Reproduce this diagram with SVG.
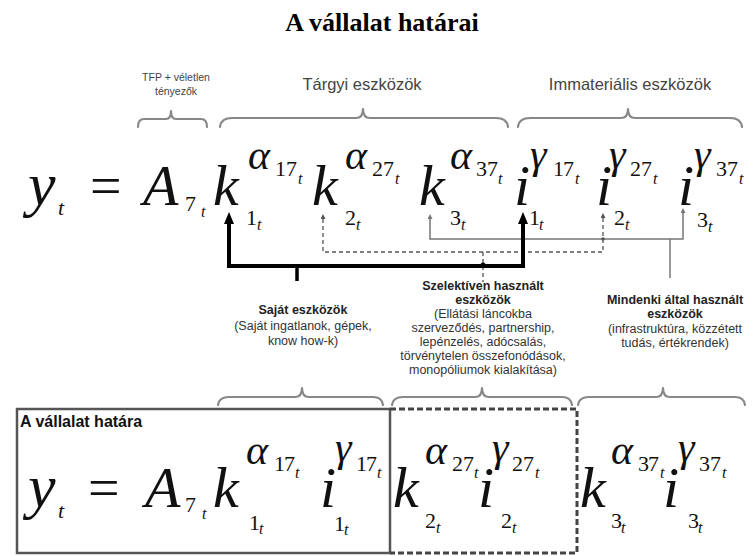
<svg xmlns="http://www.w3.org/2000/svg" width="752" height="556" viewBox="0 0 752 556">
<style>
.title{font:bold 26px "Liberation Serif",serif;fill:#000}
.lbl{font:16.5px "Liberation Sans",Arial,sans-serif;fill:#444}
.sm{font:10.5px "Liberation Sans",Arial,sans-serif;fill:#444}
.b{font:bold 12.5px "Liberation Sans",Arial,sans-serif;fill:#222}
.n{font:12.5px "Liberation Sans",Arial,sans-serif;fill:#333}
.box{font:bold 16px "Liberation Sans",Arial,sans-serif;fill:#111}
.big{font:italic 58px "Liberation Serif",serif;fill:#111}
.yy{font:italic 62px "Liberation Serif",serif;fill:#111}
.eq{font:56px "Liberation Serif",serif;fill:#111}
.sup{font:italic 42px "Liberation Serif",serif;fill:#111}
.d{font:22px "Liberation Serif",serif;fill:#111}
.t{font:italic 16px "Liberation Serif",serif;fill:#111}
.ts{font:italic 22px "Liberation Serif",serif;fill:#111}
.brace{fill:none;stroke:#888;stroke-width:2.2;stroke-linejoin:round;stroke-linecap:round}
</style>
<defs>
<marker id="ahThick" viewBox="0 0 12 10" refX="0" refY="5" markerWidth="12" markerHeight="10" markerUnits="userSpaceOnUse" orient="auto-start-reverse"><path d="M0,0 L12,5 L0,10 z" fill="#000"/></marker>
<marker id="ahDash" viewBox="0 0 5 5" refX="0" refY="2.5" markerWidth="5" markerHeight="5" markerUnits="userSpaceOnUse" orient="auto-start-reverse"><path d="M0,0 L5,2.5 L0,5 z" fill="#555"/></marker>
<marker id="ahThin" viewBox="0 0 5 5" refX="0" refY="2.5" markerWidth="5" markerHeight="5" markerUnits="userSpaceOnUse" orient="auto-start-reverse"><path d="M0,0 L5,2.5 L0,5 z" fill="#777"/></marker>
</defs>

<text class="title" x="382" y="31" text-anchor="middle">A vállalat határai</text>

<g id="top-labels">
<text class="sm" x="176" y="81" text-anchor="middle">TFP + véletlen</text>
<text class="sm" x="176" y="95" text-anchor="middle">tényezők</text>
<text class="lbl" x="362" y="90" text-anchor="middle">Tárgyi eszközök</text>
<text class="lbl" x="630" y="90" text-anchor="middle">Immateriális eszközök</text>
</g>

<g id="top-braces">
<path class="brace" d="M138 127 Q138 119 144 119 L166 119 Q171 119 171 111 Q171 119 176 119 L201 119 Q207 119 207 127"/>
<path class="brace" d="M220 127 Q221 118 232 118 L356 118 Q363 118 363 109 Q363 118 370 118 L496 118 Q507 118 508 127"/>
<path class="brace" d="M518 127 Q519 118 530 118 L621 118 Q628 118 628 109 Q628 118 635 118 L730 118 Q741 118 742 127"/>
</g>

<g id="equation-top">
<text class="yy" x="28" y="205">y</text>
<text class="ts" x="58" y="215">t</text>
<text class="eq" x="90" y="205">=</text>
<text class="big" x="143" y="205">A</text>
<text class="d" x="185" y="211">7</text>
<text class="t" x="201" y="217">t</text>

<text class="big" x="213" y="205">k</text>
<text class="sup" x="248" y="169">α</text>
<text class="d" x="275" y="176">1</text>
<text class="d" x="286" y="176">7</text>
<text class="t" x="298" y="184">t</text>
<text class="d" x="246" y="225">1</text>
<text class="t" x="257" y="230">t</text>

<text class="big" x="312" y="205">k</text>
<text class="sup" x="345" y="169">α</text>
<text class="d" x="372" y="176">2</text>
<text class="d" x="383" y="176">7</text>
<text class="t" x="395" y="184">t</text>
<text class="d" x="345" y="225">2</text>
<text class="t" x="356" y="230">t</text>

<text class="big" x="419" y="205">k</text>
<text class="sup" x="450" y="169">α</text>
<text class="d" x="476" y="176">3</text>
<text class="d" x="487" y="176">7</text>
<text class="t" x="498" y="184">t</text>
<text class="d" x="450" y="225">3</text>
<text class="t" x="461" y="230">t</text>

<text class="big" x="514" y="205">i</text>
<text class="sup" x="530" y="168">γ</text>
<text class="d" x="553" y="176">1</text>
<text class="d" x="563" y="176">7</text>
<text class="t" x="575" y="184">t</text>
<text class="d" x="529" y="225">1</text>
<text class="t" x="539" y="230">t</text>

<text class="big" x="596" y="205">i</text>
<text class="sup" x="609" y="168">γ</text>
<text class="d" x="630" y="176">2</text>
<text class="d" x="641" y="176">7</text>
<text class="t" x="653" y="184">t</text>
<text class="d" x="614" y="225">2</text>
<text class="t" x="625" y="230">t</text>

<text class="big" x="678" y="205">i</text>
<text class="sup" x="694" y="168">γ</text>
<text class="d" x="716" y="176">3</text>
<text class="d" x="727" y="176">7</text>
<text class="t" x="739" y="184">t</text>
<text class="d" x="697" y="227">3</text>
<text class="t" x="708" y="232">t</text>
</g>

<g id="connectors">
<path d="M430 219 V239 H683 V213" fill="none" stroke="#777" stroke-width="1.5" marker-start="url(#ahThin)" marker-end="url(#ahThin)"/>
<path d="M670 239 V278" fill="none" stroke="#777" stroke-width="1.5"/>
<path d="M323 219 V252 H603 V218" fill="none" stroke="#555" stroke-width="1.3" stroke-dasharray="4 3" marker-start="url(#ahDash)" marker-end="url(#ahDash)"/>
<path d="M483 252 V282" fill="none" stroke="#555" stroke-width="1.3" stroke-dasharray="4 3"/>
<path d="M229 224 V266 H523 V224" fill="none" stroke="#000" stroke-width="4" stroke-linejoin="miter" marker-start="url(#ahThick)" marker-end="url(#ahThick)"/>
<path d="M297 266 V281" fill="none" stroke="#000" stroke-width="3.5"/>
<circle cx="483" cy="265" r="2.5" fill="#000"/>
<circle cx="603" cy="239" r="1.8" fill="#555"/>
</g>

<g id="node-sajat">
<text class="b" x="303" y="314" text-anchor="middle">Saját eszközök</text>
<text class="n" x="303" y="330" text-anchor="middle">(Saját ingatlanok, gépek,</text>
<text class="n" x="303" y="345" text-anchor="middle">know how-k)</text>
</g>

<g id="node-szelektiv">
<text class="b" x="483" y="290" text-anchor="middle">Szelektíven használt</text>
<text class="b" x="483" y="304" text-anchor="middle">eszközök</text>
<text class="n" x="483" y="318" text-anchor="middle">(Ellátási láncokba</text>
<text class="n" x="483" y="332" text-anchor="middle">szerveződés, partnership,</text>
<text class="n" x="483" y="346" text-anchor="middle">lepénzelés, adócsalás,</text>
<text class="n" x="483" y="360" text-anchor="middle">törvénytelen összefonódások,</text>
<text class="n" x="483" y="374" text-anchor="middle">monopóliumok kialakítása)</text>
</g>

<g id="node-mindenki">
<text class="b" x="675" y="304" text-anchor="middle">Mindenki által használt</text>
<text class="b" x="675" y="318" text-anchor="middle">eszközök</text>
<text class="n" x="675" y="333" text-anchor="middle">(infrastruktúra, közzétett</text>
<text class="n" x="675" y="347" text-anchor="middle">tudás, értékrendek)</text>
</g>

<g id="bottom-braces">
<path class="brace" d="M218 405 Q219 397 229 397 L295 397 Q302 397 302 388 Q302 397 309 397 L373 397 Q382 397 383 405"/>
<path class="brace" d="M392 405 Q393 397 403 397 L475 397 Q482 397 482 388 Q482 397 489 397 L562 397 Q571 397 572 405"/>
<path class="brace" d="M578 405 Q579 397 589 397 L656 397 Q663 397 663 388 Q663 397 670 397 L735 397 Q744 397 745 405"/>
</g>

<g id="firm-boundary">
<rect x="17" y="409" width="373" height="144" fill="none" stroke="#555" stroke-width="2.5"/>
<text class="box" x="20" y="427">A vállalat határa</text>
</g>
<g id="selective-boundary">
<path d="M390 409 H577 V553 H390" fill="none" stroke="#444" stroke-width="3" stroke-dasharray="6 3"/>
</g>

<g id="equation-bottom">
<text class="yy" x="28" y="507">y</text>
<text class="ts" x="58" y="518">t</text>
<text class="eq" x="88" y="507">=</text>
<text class="big" x="145" y="507">A</text>
<text class="d" x="185" y="512">7</text>
<text class="t" x="202" y="519">t</text>

<text class="big" x="213" y="507">k</text>
<text class="sup" x="246" y="464">α</text>
<text class="d" x="274" y="471">1</text>
<text class="d" x="284" y="471">7</text>
<text class="t" x="295" y="478">t</text>
<text class="d" x="249" y="530">1</text>
<text class="t" x="259" y="534">t</text>

<text class="big" x="320" y="507">i</text>
<text class="sup" x="335" y="461">γ</text>
<text class="d" x="356" y="471">1</text>
<text class="d" x="366" y="471">7</text>
<text class="t" x="377" y="478">t</text>
<text class="d" x="334" y="531">1</text>
<text class="t" x="344" y="535">t</text>

<text class="big" x="393" y="507">k</text>
<text class="sup" x="425" y="464">α</text>
<text class="d" x="452" y="471">2</text>
<text class="d" x="463" y="471">7</text>
<text class="t" x="474" y="478">t</text>
<text class="d" x="425" y="528">2</text>
<text class="t" x="436" y="533">t</text>

<text class="big" x="478" y="507">i</text>
<text class="sup" x="492" y="461">γ</text>
<text class="d" x="512" y="471">2</text>
<text class="d" x="523" y="471">7</text>
<text class="t" x="535" y="478">t</text>
<text class="d" x="501" y="528">2</text>
<text class="t" x="512" y="533">t</text>

<text class="big" x="580" y="507">k</text>
<text class="sup" x="611" y="464">α</text>
<text class="d" x="638" y="471">3</text>
<text class="d" x="648" y="471">7</text>
<text class="t" x="660" y="478">t</text>
<text class="d" x="611" y="528">3</text>
<text class="t" x="621" y="533">t</text>

<text class="big" x="663" y="507">i</text>
<text class="sup" x="678" y="461">γ</text>
<text class="d" x="699" y="471">3</text>
<text class="d" x="710" y="471">7</text>
<text class="t" x="722" y="478">t</text>
<text class="d" x="688" y="528">3</text>
<text class="t" x="698" y="533">t</text>
</g>
</svg>
